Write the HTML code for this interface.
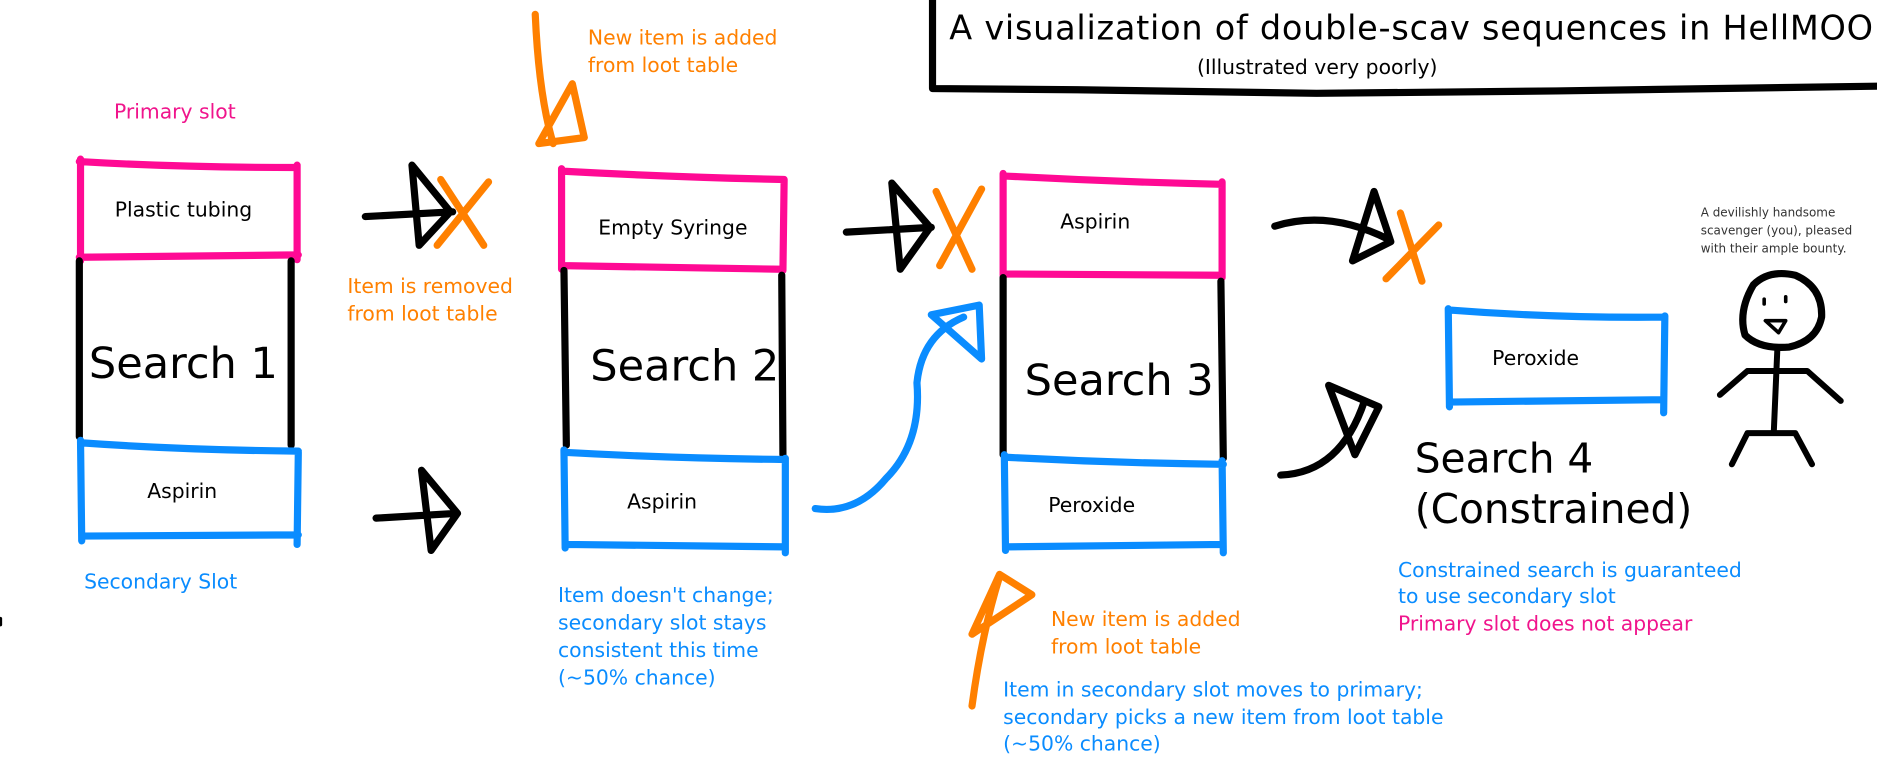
<!DOCTYPE html>
<html><head><style>html,body{margin:0;padding:0;background:#fff}svg{display:block}</style></head><body>
<svg width="1877" height="779" viewBox="0 0 1568 651" xmlns="http://www.w3.org/2000/svg" font-family="'DejaVu Sans','Liberation Sans',sans-serif">
<g fill="none" stroke-linecap="round" stroke-linejoin="round">
<!-- title frame -->
<path d="M779 0 L779 74 L900 75 L1100 78 L1300 76 L1568 72" stroke="#000" stroke-width="6"/>
<!-- box1 -->
<path d="M67 133 L67 218 M248 138 L248 217 M66 135 Q150 140 248 140 M66 215 L249 213" stroke="#ff0a94" stroke-width="6"/>
<path d="M66 218 L66 365 M243 218 L243 372" stroke="#000" stroke-width="6"/>
<path d="M67 368 L68 452 M249 378 L248 455 M67 370 Q150 376 249 377 M68 448 L249 447" stroke="#0a8cff" stroke-width="6"/>
<!-- box2 -->
<path d="M469 141 L469 225 M655 150 L654 226 M469 143 Q560 148 655 150 M470 222 L653 225" stroke="#ff0a94" stroke-width="6"/>
<path d="M471 226 L473 372 M653 230 L654 380" stroke="#000" stroke-width="6"/>
<path d="M471 376 L472 458 M656 383 L656 462 M471 378 Q560 383 656 384 M473 455 L656 457" stroke="#0a8cff" stroke-width="6"/>
<!-- box3 -->
<path d="M838 145 L838 230 M1021 152 L1021 232 M838 147 Q930 152 1021 154 M839 229 L1021 230" stroke="#ff0a94" stroke-width="6"/>
<path d="M838 232 L838 380 M1020 235 L1022 383" stroke="#000" stroke-width="6"/>
<path d="M839 380 L840 460 M1021 385 L1022 462 M839 382 Q930 387 1022 388 M840 457 L1021 455" stroke="#0a8cff" stroke-width="6"/>
<!-- box4 -->
<path d="M1210 258 L1211 340 M1391 264 L1390 345 M1210 259 Q1300 266 1391 265 M1211 336 L1390 334" stroke="#0a8cff" stroke-width="6"/>
<!-- black arrows -->
<path d="M305 181 L378 177 M344 138 L376 177 L350 205 Z" stroke="#000" stroke-width="6"/>
<path d="M314 433 L382 429 M352 393 L382 429 L360 460 Z" stroke="#000" stroke-width="6"/>
<path d="M707 194 L778 190 M745 153 L777 190 L752 225 Z" stroke="#000" stroke-width="6"/>
<path d="M1065 189 Q1110 175 1160 200 M1148 160 L1162 202 L1130 218 Z" stroke="#000" stroke-width="6"/>
<path d="M1070 397 Q1120 395 1140 335 M1110 322 L1152 340 L1132 380 Z" stroke="#000" stroke-width="6"/>
<!-- orange X -->
<path d="M368 150 L404 205 M408 152 L365 205" stroke="#ff8000" stroke-width="6"/>
<path d="M782 160 L812 225 M820 158 L785 222" stroke="#ff8000" stroke-width="6"/>
<path d="M1170 178 L1188 235 M1202 188 L1158 233" stroke="#ff8000" stroke-width="6"/>
<!-- orange arrows -->
<path d="M447 12 Q450 80 462 120 M450 120 L488 115 L478 70 Z" stroke="#ff8000" stroke-width="6"/>
<path d="M812 590 Q820 530 835 482 M812 530 L835 480 L862 497 Z" stroke="#ff8000" stroke-width="6"/>
<!-- blue curve arrow -->
<path d="M681 425 Q715 430 740 400 Q770 370 766 320 Q770 280 805 265 M778 263 L818 255 L820 300 Z" stroke="#0a8cff" stroke-width="6"/>
<!-- stick figure -->
<path d="M1465 238 Q1478 225 1500 230 Q1523 240 1522 265 Q1518 285 1495 290 Q1470 292 1458 280 Q1452 260 1465 238 Z" stroke="#000" stroke-width="6"/>
<path d="M1474 254 l0 -4 M1492 252 l0 -4 M1475 268 L1492 268 L1486 278 Z" stroke="#000" stroke-width="3"/>
<path d="M1485 292 L1482 362 M1437 330 L1460 310 L1510 310 L1538 335 M1447 388 L1460 362 L1500 362 L1514 388" stroke="#000" stroke-width="5"/>
<path d="M0 517 L0 522" stroke="#000" stroke-width="3"/>
</g>
<g font-size="17">
<text x="793" y="33" font-size="28" textLength="772">A visualization of double-scav sequences in HellMOO</text>
<text x="1000" y="62" font-size="17">(Illustrated very poorly)</text>
<text x="95" y="99" fill="#f0148c">Primary slot</text>
<text x="153" y="181" text-anchor="middle">Plastic tubing</text>
<text x="153" y="316" text-anchor="middle" font-size="36">Search 1</text>
<text x="152" y="416" text-anchor="middle">Aspirin</text>
<text x="70" y="492" fill="#0a8cff">Secondary Slot</text>
<text x="290" y="245" fill="#ff8000">Item is removed</text>
<text x="290" y="268" fill="#ff8000">from loot table</text>
<text x="491" y="37" fill="#ff8000">New item is added</text>
<text x="491" y="60" fill="#ff8000">from loot table</text>
<text x="562" y="196" text-anchor="middle">Empty Syringe</text>
<text x="572" y="318" text-anchor="middle" font-size="36">Search 2</text>
<text x="553" y="425" text-anchor="middle">Aspirin</text>
<g fill="#0a8cff"><text x="466" y="503">Item doesn't change;</text><text x="466" y="526">secondary slot stays</text><text x="466" y="549">consistent this time</text><text x="466" y="572">(~50% chance)</text></g>
<text x="915" y="191" text-anchor="middle">Aspirin</text>
<text x="935" y="330" text-anchor="middle" font-size="36">Search 3</text>
<text x="912" y="428" text-anchor="middle">Peroxide</text>
<text x="878" y="523" fill="#ff8000">New item is added</text>
<text x="878" y="546" fill="#ff8000">from loot table</text>
<g fill="#0a8cff"><text x="838" y="582">Item in secondary slot moves to primary;</text><text x="838" y="605">secondary picks a new item from loot table</text><text x="838" y="627">(~50% chance)</text></g>
<text x="1283" y="305" text-anchor="middle">Peroxide</text>
<text x="1182" y="395" font-size="34">Search 4</text>
<text x="1182" y="437" font-size="34">(Constrained)</text>
<text x="1168" y="482" fill="#0a8cff">Constrained search is guaranteed</text>
<text x="1168" y="504" fill="#0a8cff">to use secondary slot</text>
<text x="1168" y="527" fill="#f0148c">Primary slot does not appear</text>
<g font-size="10" fill="#333"><text x="1421" y="181">A devilishly handsome</text><text x="1421" y="196">scavenger (you), pleased</text><text x="1421" y="211">with their ample bounty.</text></g>
</g>
</svg>
</body></html>
